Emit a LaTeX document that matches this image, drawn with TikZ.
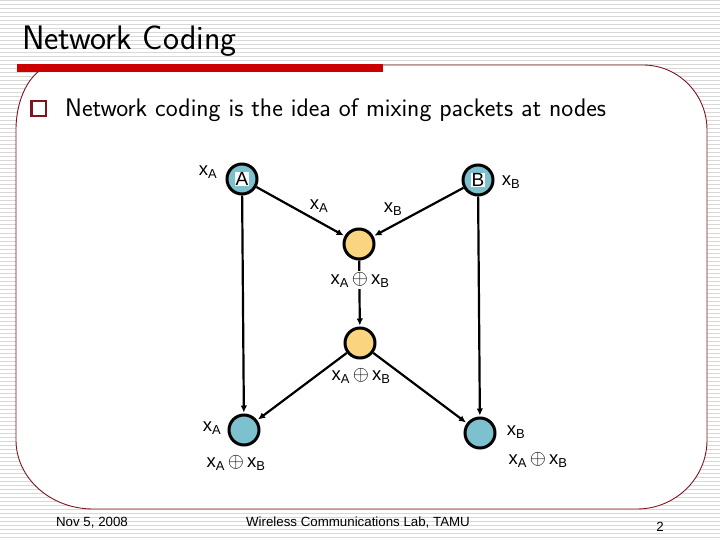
\documentclass[tikz,border=0pt]{standalone}
\usepackage{fontspec}
\newfontfamily\arialf{Liberation Sans}
\usetikzlibrary{arrows.meta}
\definecolor{nodeblue}{RGB}{125,193,206}
\definecolor{nodeyellow}{RGB}{250,212,126}
\definecolor{barred}{RGB}{204,0,0}
\definecolor{frame}{RGB}{128,20,30}
\definecolor{stripe}{RGB}{216,216,216}
\newcommand\xsub[1]{x\textsubscript{#1}}
\newcommand\xsum{\xsub{A}\hspace{3pt}{\fontsize{20}{20}\selectfont$\oplus$}\hspace{3pt}\xsub{B}}
\tikzset{
  netnode/.style={circle, draw=black, line width=3pt, minimum size=30pt, inner sep=0pt},
  bluenode/.style={netnode, fill=nodeblue},
  yellownode/.style={netnode, fill=nodeyellow},
  lbl/.style={font=\arialf\fontsize{18.5}{20}\selectfont, inner sep=1pt},
  letter/.style={font=\arialf\fontsize{19}{20}\selectfont, fill=white, inner sep=0.6pt},
  link/.style={line width=2.2pt, -{Latex[length=7pt,width=6.5pt]}, shorten >=1pt},
  foot/.style={font=\arialf\fontsize{13.3}{15}\selectfont, inner sep=0, anchor=base}
}
\begin{document}
\begin{tikzpicture}[x=1pt,y=-1pt]
\useasboundingbox (0,0) rectangle (720,540);
% background stripes
\fill[white] (0,0) rectangle (720,540);
\foreach \yy in {1,5,...,539} {\draw[stripe, line width=1pt] (0,\yy) -- (720,\yy);}
% content frame
\filldraw[fill=white, draw=frame, line width=0.9pt]
  (56,65) -- (643,65)
  .. controls (678.3,65) and (707,94.1) .. (707,130)
  -- (707,440)
  .. controls (707,478.1) and (675.6,509) .. (637,509)
  -- (93,509)
  .. controls (50.5,509) and (16,478.1) .. (16,440)
  -- (16,130)
  .. controls (16,94.1) and (33.9,65) .. (56,65) -- cycle;
\fill[barred] (17,64) rectangle (383,72);
% title and bullet
\node[anchor=base west, font=\sffamily\fontsize{34}{38}\selectfont, inner sep=0] (title) at (22,50) {Network Coding};
\draw[frame, line width=2.5pt] (31.5,101) rectangle (46,116);
\node[anchor=base west, font=\sffamily\fontsize{25.4}{30}\selectfont, inner sep=0] (bullet) at (65,117) {Network coding is the idea of mixing packets at nodes};
% nodes
\node[bluenode] (A) at (242,179) {};
\node[letter] (Aletter) at (242,179) {A};
\node[bluenode] (B) at (478,180) {};
\node[letter] (Bletter) at (478,180) {B};
\node[yellownode] (Y1) at (359,244) {};
\node[yellownode] (Y2) at (360,343) {};
\node[bluenode] (C) at (244,430) {};
\node[bluenode] (D) at (480,433) {};
% links
\draw[link] (A) -- (C);
\draw[link] (B) -- (D);
\draw[link] (A) -- (Y1);
\draw[link] (B) -- (Y1);
\draw[link] (Y1) -- (Y2);
\draw[link] (Y2) -- (C);
\draw[link] (Y2) -- (D);
% labels
\node[lbl] (lA) at (208,172) {\xsub{A}};
\node[lbl] (lB) at (511,182) {\xsub{B}};
\node[lbl] (eA) at (319,206) {\xsub{A}};
\node[lbl] (eB) at (393,209) {\xsub{B}};
\node[lbl, fill=white] (s1) at (360,280) {\xsum};
\node[lbl] (s2) at (361,376) {\xsum};
\node[lbl] (lC) at (212,428) {\xsub{A}};
\node[lbl] (sC) at (236,463) {\xsum};
\node[lbl] (lD) at (516,432) {\xsub{B}};
\node[lbl] (sD) at (538,460) {\xsum};
% footer
\node[foot] (date) at (92,526) {Nov 5, 2008};
\node[foot] (lab) at (358,526) {Wireless Communications Lab, TAMU};
\node[foot] (page) at (660,531) {2};
\end{tikzpicture}
\end{document}
